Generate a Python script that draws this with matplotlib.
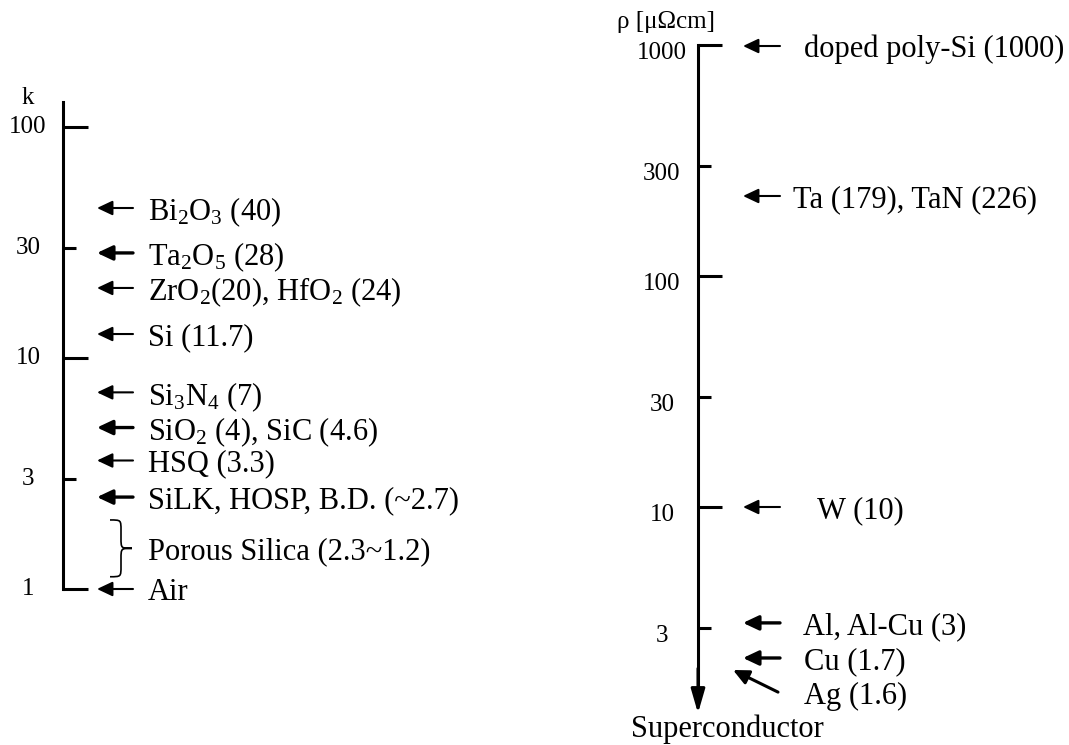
import numpy as np
import matplotlib
matplotlib.use("Agg")
import matplotlib.pyplot as plt
from matplotlib.path import Path
from matplotlib.patches import PathPatch

plt.rcParams['font.family'] = ['Liberation Serif', 'DejaVu Serif']
plt.rcParams['mathtext.fontset'] = 'custom'
plt.rcParams['mathtext.rm'] = 'Liberation Serif'
plt.rcParams['mathtext.it'] = 'Liberation Serif:italic'
plt.rcParams['mathtext.bf'] = 'Liberation Serif:bold'

# ---- DATA ----
# dielectric constant scale (left)
k_ticks = [1, 3, 10, 30, 100]
k_tick_labels = ['1', '3', '10', '30', '100']
k_materials = ['Bi$_2$O$_3$ (40)', 'Ta$_2$O$_5$ (28)', 'ZrO$_2$(20), HfO$_2$ (24)',
               'Si (11.7)', 'Si$_3$N$_4$ (7)', 'SiO$_2$ (4), SiC (4.6)',
               'HSQ (3.3)', 'SiLK, HOSP, B.D. (~2.7)', 'Air']
k_arrow_at = [44.6, 28.5, 20.1, 12.7, 7.1, 5.0, 3.6, 2.5, 1.0]
k_arrow_lw = [1.5, 2.4, 1.5, 1.5, 1.5, 2.4, 1.5, 2.4, 1.5]
porous_label = 'Porous Silica (2.3~1.2)'
porous_range = (1.99, 1.13)

# resistivity scale (right)
rho_ticks = [3, 10, 30, 100, 300, 1000]
rho_tick_labels = ['3', '10', '30', '100', '300', '1000']
rho_materials = ['doped poly-Si (1000)', 'Ta (179), TaN (226)', 'W (10)',
                 'Al, Al-Cu (3)', 'Cu (1.7)']
rho_arrow_at = [990, 222, 10, 3.15, 2.22]
rho_text_x = [804, 793, 817, 803, 804]
rho_arrow_lw = [1.5, 1.5, 1.5, 2.4, 2.4]
ag_label = 'Ag (1.6)'
ag_from, ag_to = 1.58, 1.97
rho_end = 1.28

FS = 22
TFS = 18
H = 745.0

fig = plt.figure(figsize=(10.69, 7.45), dpi=100)

# ---- LEFT: k ----
ax1 = fig.add_axes([0, (H - 589) / H, 1, (589 - 127) / H])
ax1.set_xlim(0, 1069)
ax1.set_yscale('log')
ax1.set_ylim(1, 100)
ax1.set_axis_off()

ax1.plot([63, 63], [1, 128], color='black', lw=2.2, solid_capstyle='projecting', clip_on=False)
for t, lab in zip(k_ticks, k_tick_labels):
    ln = 25 if t in (1, 10, 100) else 13
    ax1.plot([63, 63 + ln], [t, t], color='black', lw=2.2, solid_capstyle='butt', clip_on=False)
    ax1.text(28, t, lab, fontsize=TFS, ha='center', va='center', clip_on=False)
ax1.text(28, 134, 'k', fontsize=TFS, ha='center', va='center')

arrow_style = '-|>,head_length=0.85,head_width=0.4'
for name, k, lw in zip(k_materials, k_arrow_at, k_arrow_lw):
    ax1.annotate('', xy=(97, k), xytext=(133, k),
                 arrowprops=dict(arrowstyle=arrow_style, color='black', lw=lw,
                                 mutation_scale=11, shrinkA=0, shrinkB=0))
    ax1.text(148, k, name, fontsize=FS, ha='left', va='center_baseline')

# curly brace for porous silica
t, b = np.log10(porous_range[0]), np.log10(porous_range[1])
m = (t + b) / 2
d = 0.045
x0, x1, x2 = 110, 121, 132
verts = [(x0, t), (x1, t), (x1, t), (x1, t - d),
         (x1, m + d), (x1, m), (x1, m), (x2, m),
         (x1, m), (x1, m), (x1, m - d),
         (x1, b + d), (x1, b), (x1, b), (x0, b)]
codes = [Path.MOVETO, Path.CURVE4, Path.CURVE4, Path.CURVE4,
         Path.LINETO, Path.CURVE4, Path.CURVE4, Path.CURVE4,
         Path.CURVE4, Path.CURVE4, Path.CURVE4,
         Path.LINETO, Path.CURVE4, Path.CURVE4, Path.CURVE4]
verts = [(x, 10 ** y) for x, y in verts]
ax1.add_patch(PathPatch(Path(verts, codes), fill=False, lw=1.2, color='black', clip_on=False))
ax1.text(148, 10 ** m, porous_label, fontsize=FS, ha='left', va='center_baseline')

# ---- RIGHT: rho ----
ax2 = fig.add_axes([0, (H - 738) / H, 1, (738 - 45) / H])
ax2.set_xlim(0, 1069)
ax2.set_yscale('log')
ax2.set_ylim(1, 1000)
ax2.set_axis_off()

ax2.plot([698, 698], [1000, 1.5], color='black', lw=2.2, solid_capstyle='projecting', clip_on=False)
ax2.annotate('', xy=(698, rho_end), xytext=(698, 2.0),
             arrowprops=dict(arrowstyle='-|>,head_length=1.45,head_width=0.42',
                             color='black', lw=2.2, mutation_scale=10,
                             shrinkA=0, shrinkB=0))
for tk, lab in zip(rho_ticks, rho_tick_labels):
    ln = 24 if tk in (10, 100, 1000) else 13
    ax2.plot([698, 698 + ln], [tk, tk], color='black', lw=2.2, solid_capstyle='butt', clip_on=False)
    ax2.annotate(lab, xy=(662, tk), xytext=(0, -6), textcoords='offset points',
                 fontsize=TFS, ha='center', va='center', annotation_clip=False)
ax2.text(715, 1259, r'ρ [μΩcm]', fontsize=TFS, ha='right', va='center')

for name, r, tx, lw in zip(rho_materials, rho_arrow_at, rho_text_x, rho_arrow_lw):
    ax2.annotate('', xy=(743, r), xytext=(780, r),
                 arrowprops=dict(arrowstyle=arrow_style, color='black', lw=lw,
                                 mutation_scale=11, shrinkA=0, shrinkB=0))
    ax2.text(tx, r, name, fontsize=FS, ha='left', va='center_baseline')

ax2.annotate('', xy=(733, ag_to), xytext=(778, ag_from),
             arrowprops=dict(arrowstyle=arrow_style, color='black', lw=2.2,
                             mutation_scale=11, shrinkA=0, shrinkB=0))
ax2.text(804, 1.57, ag_label, fontsize=FS, ha='left', va='center_baseline')
ax2.text(727, 1.13, 'Superconductor', fontsize=FS, ha='center', va='center_baseline')

fig.savefig('out.png', dpi=100, facecolor='white')
